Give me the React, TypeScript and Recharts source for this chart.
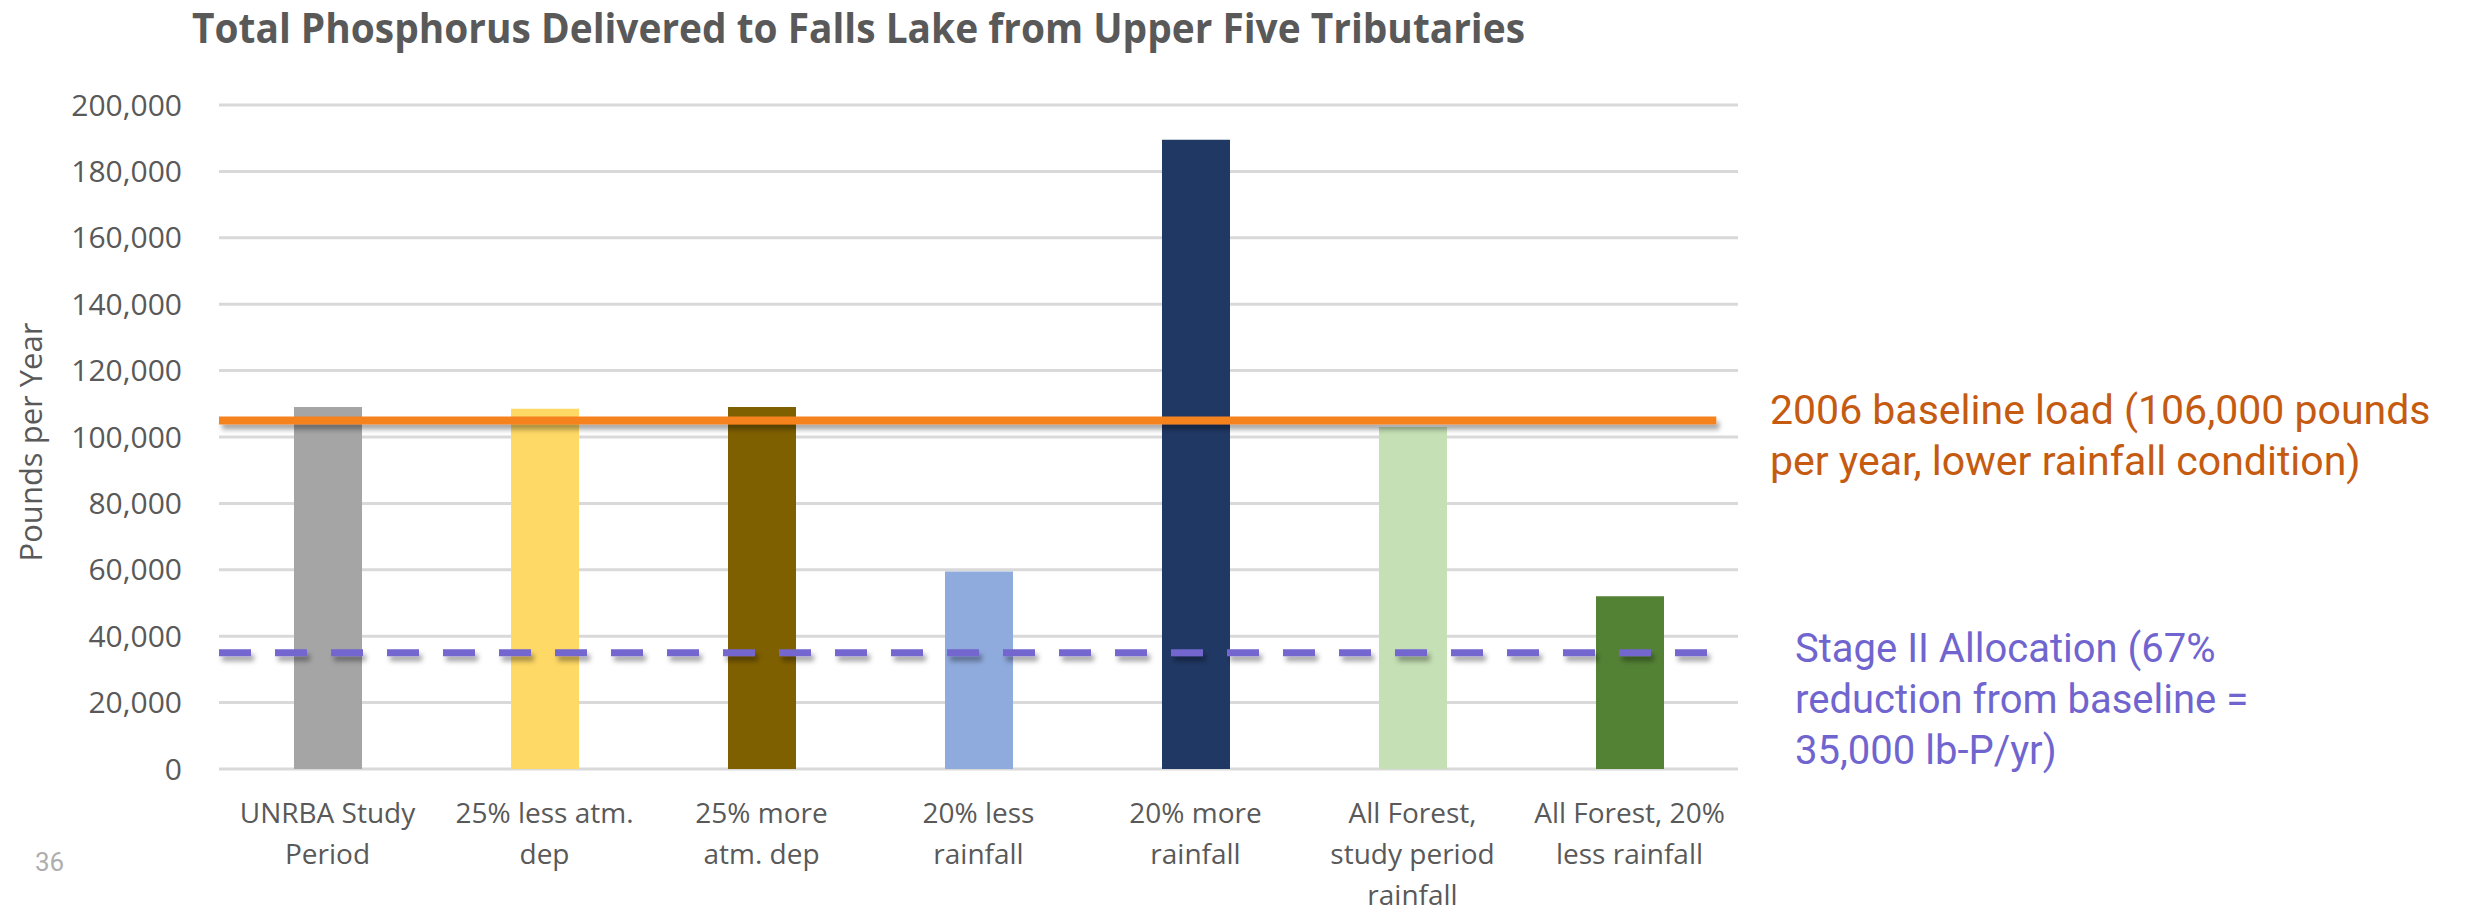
import React from "react";
import { BarChart, Bar, XAxis, YAxis, CartesianGrid, Cell, ReferenceLine } from "recharts";

const categories = [
  "UNRBA Study Period",
  "25% less atm. dep",
  "25% more atm. dep",
  "20% less rainfall",
  "20% more rainfall",
  "All Forest, study period rainfall",
  "All Forest, 20% less rainfall",
];
const tickLines = [
  ["UNRBA Study", "Period"],
  ["25% less atm.", "dep"],
  ["25% more", "atm. dep"],
  ["20% less", "rainfall"],
  ["20% more", "rainfall"],
  ["All Forest,", "study period", "rainfall"],
  ["All Forest, 20%", "less rainfall"],
];
const loads = [109000, 108500, 109000, 59500, 189500, 103000, 52000];
const barColors = ["#A5A5A5", "#FFD966", "#7F6000", "#8FAADC", "#203864", "#C5E0B4", "#548235"];
const yTicks = [0, 20000, 40000, 60000, 80000, 100000, 120000, 140000, 160000, 180000, 200000];
const baselineLoad = 105000;
const stageTwoAllocation = 35000;
const titleText = "Total Phosphorus Delivered to Falls Lake from Upper Five Tributaries";
const yLabel = "Pounds per Year";
const baselineNote = ["2006 baseline load (106,000 pounds", "per year, lower rainfall condition)"];
const allocationNote = ["Stage II Allocation (67%", "reduction from baseline =", "35,000 lb-P/yr)"];
const slideNumber = "36";

const data = categories.map((c, i) => ({ category: c, value: loads[i], idx: i }));

const XTick = (props: any) => {
  const { x, y, payload } = props;
  const lines = tickLines[payload.index] || [String(payload.value)];
  return (
    <g>
      {lines.map((l: string, k: number) => (
        <text
          key={k}
          x={x}
          y={y + 46 + k * 41}
          textAnchor="middle"
          fontFamily="'Open Sans', sans-serif"
          fontSize={28}
          fill="#595959"
        >
          {l}
        </text>
      ))}
    </g>
  );
};

export default function App() {
  return (
    <div style={{ position: "absolute", left: 0, top: 0, width: 2466, height: 913, background: "#fff" }}>
      <style>{`
        .orange-ref line { filter: url(#lineShadow); }
        .purple-ref line { filter: url(#lineShadow); }
      `}</style>
      <svg width={0} height={0} style={{ position: "absolute" }}>
        <defs>
          <filter id="lineShadow" filterUnits="userSpaceOnUse" x={0} y={0} width={2466} height={913}>
            <feDropShadow dx="3" dy="5" stdDeviation="2.5" floodColor="#000" floodOpacity="0.35" />
          </filter>
        </defs>
      </svg>
      <BarChart
        width={2466}
        height={913}
        data={data}
        margin={{ top: 105, right: 728, bottom: 0, left: 0 }}
      >
        <CartesianGrid vertical={false} stroke="#D9D9D9" strokeWidth={3} />
        <XAxis
          dataKey="category"
          axisLine={false}
          tickLine={false}
          height={144}
          interval={0}
          tick={<XTick />}
        />
        <XAxis xAxisId="n" dataKey="idx" type="number" domain={[0, 7]} allowDataOverflow hide />
        <YAxis
          width={219}
          domain={[0, 200000]}
          ticks={yTicks}
          interval={0}
          axisLine={false}
          tickLine={false}
          tickSize={30}
          tickMargin={7}
          tickFormatter={(v: number) => v.toLocaleString("en-US")}
          tick={{ fontFamily: "'Open Sans', sans-serif", fontSize: 30, fill: "#595959" }}
        />
        <Bar dataKey="value" barSize={68} isAnimationActive={false}>
          {data.map((d, i) => (
            <Cell key={i} fill={barColors[i]} />
          ))}
        </Bar>
        <ReferenceLine
          className="orange-ref"
          xAxisId="n"
          ifOverflow="visible"
          segment={[{ x: 0, y: baselineLoad }, { x: 6.9, y: baselineLoad }]}
          stroke="#F5821F"
          strokeWidth={8}
        />
        <ReferenceLine
          className="purple-ref"
          xAxisId="n"
          ifOverflow="visible"
          segment={[{ x: 0, y: stageTwoAllocation }, { x: 6.9, y: stageTwoAllocation }]}
          stroke="#7366CF"
          strokeWidth={7}
          strokeDasharray="32 24"
        />
      </BarChart>
      <svg
        width={2466}
        height={913}
        style={{ position: "absolute", left: 0, top: 0, pointerEvents: "none" }}
      >
        <text
          x={192}
          y={43}
          fontFamily="'Open Sans', sans-serif"
          fontWeight={700}
          fontSize={41}
          fill="#595959"
          textLength={1333}
          lengthAdjust="spacingAndGlyphs"
        >
          {titleText}
        </text>
        <text
          x={42}
          y={442}
          transform="rotate(-90 42 442)"
          textAnchor="middle"
          fontFamily="'Open Sans', sans-serif"
          fontSize={31}
          fill="#595959"
        >
          {yLabel}
        </text>
        {baselineNote.map((l, k) => (
          <text key={k} x={1770} y={424 + k * 51} fontFamily="Roboto, sans-serif" fontSize={41} fill="#C55A11">
            {l}
          </text>
        ))}
        {allocationNote.map((l, k) => (
          <text key={k} x={1795} y={662 + k * 51} fontFamily="Roboto, sans-serif" fontSize={40} fill="#7065CF">
            {l}
          </text>
        ))}
        <text x={35} y={871} fontFamily="Roboto, sans-serif" fontSize={26} fill="#AEAEAE">
          {slideNumber}
        </text>
      </svg>
    </div>
  );
}
